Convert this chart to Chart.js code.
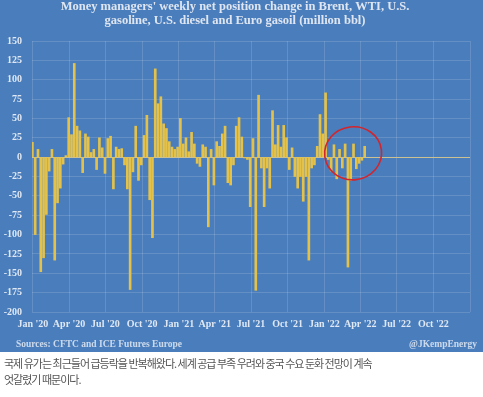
<!DOCTYPE html>
<html><head><meta charset="utf-8">
<script src="https://cdn.jsdelivr.net/npm/chart.js@4/dist/chart.umd.min.js"></script>
<style>
html,body{margin:0;padding:0;background:#fff;}
#wrap{position:relative;width:483px;height:352px;background:#4a7dbc;overflow:hidden}
canvas{display:block}
.src{position:absolute;top:338px;font:bold 9.5px "Liberation Serif";color:rgba(232,238,247,0.82);white-space:nowrap;line-height:12px}
#caption{position:absolute;left:4px;top:355px;width:479px;font:11px "Noto Sans CJK KR";color:#555;line-height:16px;letter-spacing:-1px;white-space:nowrap}
</style>
</head><body>
<div id="wrap">
<canvas id="c" width="483" height="352"></canvas>
<div class="src" style="left:16px">Sources: CFTC and ICE Futures Europe</div>
<div class="src" style="right:6px">@JKempEnergy</div>
</div>
<div id="caption">국제 유가는 최근들어 급등락을 반복해왔다. 세계 공급 부족 우려와 중국 수요 둔화 전망이 계속<br>엇갈렸기 때문이다.</div>
<script>
const titleLines = ["Money managers' weekly net position change in Brent, WTI, U.S.", "gasoline, U.S. diesel and Euro gasoil (million bbl)"];
const firstReport = "2019-12-31";
const netChange = [19,-100,10,-148,-130,-74,-18,10,-133,-59,
 -40,-9,2,51,29,121,40,34,-20,30,
 26,6,10,-16,25,12,-21,24,27,-41,
 13,10,11,-10,-41,-171,-19,40,-30,-10,
 28,54,-55,-104,114,69,78,43,37,20,
 13,10,13,50,17,25,7,32,17,-8,
 -12,16,13,-90,10,-36,20,14,30,40,
 -33,-36,-10,40,51,26,-1,-3,-64,24,
 -172,80,-14,-64,-14,-40,60,16,41,13,
 41,25,-16,12,-25,-40,-25,-57,-25,-133,
 -14,-10,14,55,30,83,-3,-18,16,-28,
 10,-14,17,-142,-30,17,-15,-8,-4,14];
const quarterStarts = ["2020-01-01","2020-04-01","2020-07-01","2020-10-01","2021-01-01","2021-04-01","2021-07-01","2021-10-01","2022-01-01","2022-04-01","2022-07-01","2022-10-01","2023-01-01"];
const quarterLabels = ["Jan '20","Apr '20","Jul '20","Oct '20","Jan '21","Apr '21","Jul '21","Oct '21","Jan '22","Apr '22","Jul '22","Oct '22",""];
const yTicks = {min:-200, max:150, step:25};

const DAY = 86400000;
const origin = Date.parse("2020-01-01T00:00:00Z");
const dayOf = s => Math.round((Date.parse(s + "T00:00:00Z") - origin) / DAY);
const startDay = dayOf(firstReport);
const points = netChange.map((v, i) => ({x: startDay + 7 * i, y: v}));
const qDays = quarterStarts.map(dayOf);
const circleCenter = {x: dayOf("2022-03-14"), y: 5};

const txt = 'rgba(236,241,248,0.92)';
const gridC = 'rgba(255,255,255,0.14)';
const serifB = {family: 'Liberation Serif', size: 10, weight: 'bold'};

const circlePlugin = {
  id: 'circle',
  afterDatasetsDraw(chart) {
    const {ctx, scales: {x, y}} = chart;
    const cx = x.getPixelForValue(circleCenter.x), cy = y.getPixelForValue(circleCenter.y);
    ctx.save();
    ctx.strokeStyle = '#d3252c';
    ctx.lineWidth = 1.6;
    ctx.beginPath();
    ctx.ellipse(cx, cy, 28.5, 26.5, -0.12, 0, Math.PI * 2);
    ctx.stroke();
    ctx.restore();
  }
};

new Chart(document.getElementById('c'), {
  type: 'bar',
  data: {datasets: [{data: points, backgroundColor: '#e4c24a', borderWidth: 0, barThickness: 2}]},
  options: {
    responsive: false, animation: false, devicePixelRatio: 1,
    layout: {padding: {left: 0, right: 13, top: 0, bottom: 0}},
    plugins: {
      legend: {display: false}, tooltip: {enabled: false},
      title: {display: true, text: titleLines, color: '#dfe6f1',
        font: {family: 'Liberation Serif', size: 12.5, weight: 'bold', lineHeight: 1.12},
        padding: {top: 0, bottom: 13}}
    },
    scales: {
      x: {type: 'linear', min: -2, max: qDays[qDays.length - 1], offset: false,
        afterBuildTicks: s => { s.ticks = qDays.map(v => ({value: v})); },
        afterFit: s => { s.height = 40; },
        ticks: {autoSkip: false, maxRotation: 0, padding: 6, color: txt, font: serifB,
          callback: (v, i) => quarterLabels[i]},
        grid: {color: gridC, drawTicks: false, offset: false}, border: {display: false}},
      y: {min: yTicks.min, max: yTicks.max,
        afterFit: s => { s.width = 32; },
        ticks: {stepSize: yTicks.step, padding: 10, color: txt, font: serifB},
        grid: {color: c => c.tick && c.tick.value === 0 ? 'rgba(226,204,140,0.85)' : gridC, drawTicks: false},
        border: {display: false}}
    }
  },
  plugins: [circlePlugin]
});
</script>
</body></html>
